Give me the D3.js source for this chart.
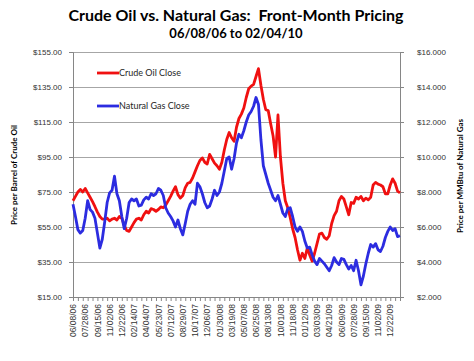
<!DOCTYPE html>
<html>
<head>
<meta charset="utf-8">
<script src="https://cdn.jsdelivr.net/npm/d3@7"></script>
<style>
	body { margin: 0; background: #fff; }
	svg { font-family: Lato, "Open Sans", sans-serif; }
	.grid line { stroke: #a6a6a6; stroke-width: 1; }
	.grid .domain { display: none; }
	.axis .domain, .axis line { stroke: #868686; }
	.axis text { fill: #333; font-size: 8px; }
</style>
</head>
<body>
<div id="chart"></div>
<script>
// weekly samples (every 7 trading days)
var oilClose = [
	70, 72.5, 75, 76.5, 75, 77, 74.5, 72, 69.5, 66.6,
	63.5, 61, 59.5, 59.5, 60, 58.5, 59.5, 60, 59, 61,
	60, 56, 53, 52.5, 55, 57.5, 59.5, 60, 59, 62,
	64, 63, 65.5, 65, 64, 65, 66.5, 66, 67.5, 70,
	72.5, 75.5, 78, 73.5, 71.5, 73, 77.5, 80, 80.5, 83,
	86.5, 90, 93, 94.5, 92, 91, 96.5, 94, 91.5, 90,
	88, 92, 99, 105, 109, 106, 104, 112, 117, 119.5,
	123, 129, 134, 135.5, 136.5, 141, 145.5, 136, 128, 122,
	121.5, 114, 107, 95, 119, 95, 80, 70, 66, 60.5,
	54, 49, 42, 36, 40, 37, 43, 39, 35.5, 40,
	45.5, 51, 51.5, 49, 48, 50, 57, 61.5, 64, 70,
	72.5, 71, 66.5, 62, 69, 68.5, 72, 71, 72.5, 70,
	71.5, 70.5, 72, 79, 80.5, 79.5, 79, 78, 74, 74,
	79, 82.5, 80, 75.5, 74.5
];
var gasClose = [
	7.3, 6.6, 5.85, 5.65, 5.8, 6.5, 7.5, 7.0, 6.85, 6.5,
	5.65, 4.8, 5.3, 6.3, 7.4, 7.95, 8.1, 8.9, 7.9, 7.5,
	6.6, 5.9, 6.5, 7.4, 7.6, 7.5, 7.6, 7.2, 7.25, 7.55,
	7.7, 7.6, 7.9, 7.8, 7.9, 8.2, 8.1, 7.8, 7.1, 6.8,
	6.6, 6.35, 6.0, 6.4, 5.9, 5.55, 6.2, 6.9, 7.3, 7.5,
	7.3, 8.5, 8.3, 7.9, 7.4, 7.1, 7.2, 7.6, 8.1, 7.8,
	8.0, 8.5, 9.2, 9.9, 10.0, 9.3, 9.9, 10.8, 11.3, 11.1,
	11.5, 12.0, 12.4, 12.6, 12.9, 13.4, 13.0, 11.0, 9.5, 9.0,
	8.5, 8.1, 7.7, 7.5, 7.8, 7.3, 6.8, 6.6, 7.05, 7.1,
	6.6, 6.0, 5.75, 6.0, 5.75, 5.2, 4.8, 4.85, 4.4, 4.05,
	3.85, 4.2, 4.05, 3.9, 3.7, 3.5, 3.8, 4.25, 4.0, 3.85,
	4.2, 4.15, 3.85, 3.6, 3.8, 3.5, 4.1, 3.5, 2.7, 3.2,
	3.9, 4.5, 5.0, 4.85, 5.05, 4.7, 4.6, 4.9, 5.4, 5.75,
	6.0, 5.8, 5.9, 5.45, 5.5
];
// one label every 5 samples (35 trading days)
var dateLabels = [
	"06/08/06", "07/28/06", "09/15/06", "11/02/06", "12/22/06", "02/14/07",
	"04/04/07", "05/23/07", "07/12/07", "08/29/07", "10/17/07", "12/06/07",
	"01/30/08", "03/19/08", "05/07/08", "06/25/08", "08/13/08", "10/01/08",
	"11/18/08", "01/12/09", "03/03/09", "04/21/09", "06/09/09", "07/28/09",
	"09/15/09", "11/02/09", "12/22/09"
];
var oilTicks = [15, 35, 55, 75, 95, 115, 135, 155];
var gasTicks = [2, 4, 6, 8, 10, 12, 14, 16];
var seriesNames = ["Crude Oil Close", "Natural Gas Close"];
var seriesColors = ["#f01010", "#2c2ce0"];

var width = 474, height = 361;
var plotLeft = 73, plotRight = 400, plotTop = 52, plotBottom = 297;

var svg = d3.select("#chart")
	.append("svg")
	.attr("width", width)
	.attr("height", height);

var x = d3.scaleLinear()
	.domain([0, oilClose.length - 1])
	.range([plotLeft, plotRight]);
var yOil = d3.scaleLinear().domain([15, 155]).range([plotBottom, plotTop]);
var yGas = d3.scaleLinear().domain([2, 16]).range([plotBottom, plotTop]);

// gridlines
svg.append("g")
	.attr("class", "grid")
	.attr("transform", "translate(" + plotLeft + ",0)")
	.call(d3.axisLeft(yOil).tickValues(oilTicks).tickSize(-(plotRight - plotLeft)).tickFormat(""));

// left axis
svg.append("g")
	.attr("class", "axis")
	.attr("transform", "translate(" + plotLeft + ",0)")
	.call(d3.axisLeft(yOil).tickValues(oilTicks).tickSize(4).tickPadding(7)
		.tickFormat(function(d) { return "$" + d.toFixed(2); }));

// right axis
svg.append("g")
	.attr("class", "axis")
	.attr("transform", "translate(" + plotRight + ",0)")
	.call(d3.axisRight(yGas).tickValues(gasTicks).tickSize(4).tickPadding(13)
		.tickFormat(function(d) { return "$" + d.toFixed(3); }));

// bottom axis: minor ticks every 2 samples
svg.append("g")
	.attr("class", "axis")
	.attr("transform", "translate(0," + plotBottom + ")")
	.call(d3.axisBottom(x).tickValues(d3.range(0, oilClose.length, 2)).tickSize(4).tickFormat(""));

var xl = svg.append("g")
	.attr("class", "axis")
	.attr("transform", "translate(0," + plotBottom + ")")
	.call(d3.axisBottom(x).tickValues(dateLabels.map(function(d, i) { return i * 5; }))
		.tickSize(0)
		.tickFormat(function(d) { return dateLabels[d / 5]; }));
xl.select(".domain").remove();
xl.selectAll("text")
	.attr("transform", "rotate(-90)")
	.attr("text-anchor", "end")
	.attr("x", -7)
	.attr("y", 0)
	.attr("dy", "0.32em")
	.style("font-size", "8.5px");

// lines
var lineOil = d3.line()
	.x(function(d, i) { return x(i); })
	.y(function(d) { return yOil(d); });
var lineGas = d3.line()
	.x(function(d, i) { return x(i); })
	.y(function(d) { return yGas(d); });

svg.append("path")
	.datum(oilClose)
	.attr("d", lineOil)
	.attr("fill", "none")
	.attr("stroke", seriesColors[0])
	.attr("stroke-width", 2.8)
	.attr("stroke-linejoin", "round");
svg.append("path")
	.datum(gasClose)
	.attr("d", lineGas)
	.attr("fill", "none")
	.attr("stroke", seriesColors[1])
	.attr("stroke-width", 2.8)
	.attr("stroke-linejoin", "round");

// legend
var legend = svg.selectAll(".legend")
	.data(seriesNames)
	.enter()
	.append("g")
	.attr("class", "legend")
	.attr("transform", function(d, i) { return "translate(97," + (73 + i * 33) + ")"; });
legend.append("line")
	.attr("x1", 0).attr("x2", 22)
	.attr("stroke", function(d, i) { return seriesColors[i]; })
	.attr("stroke-width", 2.8);
legend.append("text")
	.attr("x", 22)
	.attr("dy", "0.35em")
	.attr("font-size", "9px")
	.attr("fill", "#262626")
	.text(function(d) { return d; });

// titles
svg.append("text")
	.attr("x", 236).attr("y", 21)
	.attr("text-anchor", "middle")
	.attr("font-size", "16px").attr("font-weight", "bold")
	.text("Crude Oil vs. Natural Gas:\u00a0 Front-Month Pricing");
svg.append("text")
	.attr("x", 236).attr("y", 38)
	.attr("text-anchor", "middle")
	.attr("font-size", "13px").attr("font-weight", "bold")
	.text("06/08/06 to 02/04/10");
svg.append("text")
	.attr("transform", "translate(17,175) rotate(-90)")
	.attr("text-anchor", "middle")
	.attr("font-size", "8px").attr("font-weight", "bold")
	.text("Price per Barrel of Crude Oil");
svg.append("text")
	.attr("transform", "translate(463,176) rotate(-90)")
	.attr("text-anchor", "middle")
	.attr("font-size", "8px").attr("font-weight", "bold")
	.text("Price per MMBtu of Natural Gas");
</script>
</body>
</html>
